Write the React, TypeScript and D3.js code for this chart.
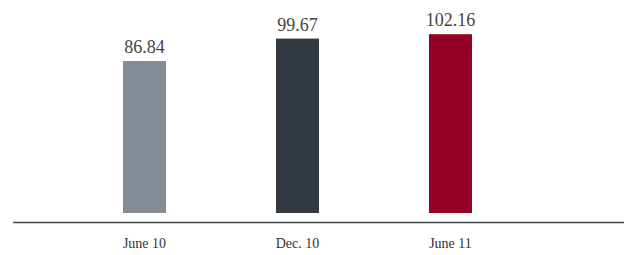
import React from "react";
import * as d3 from "d3";

const categories = ["June 10", "Dec. 10", "June 11"];
const values = [86.84, 99.67, 102.16];
const colors = ["#868c95", "#343a41", "#940026"];

const W = 624;
const H = 255;

export default function App() {
  const x = d3
    .scaleBand<string>()
    .domain(categories)
    .range([68, 527])
    .paddingInner(0.719)
    .paddingOuter(0.3595);
  const y = d3.scaleLinear().domain([0, 120]).range([213, 3]);
  const font = "'Liberation Serif', 'DejaVu Serif', serif";

  return (
    <svg
      width={W}
      height={H}
      style={{ position: "absolute", left: 0, top: 0, background: "#fff" }}
    >
      {categories.map((c, i) => (
        <g key={c}>
          <rect
            x={x(c)!}
            y={y(values[i])}
            width={x.bandwidth()}
            height={y(0) - y(values[i])}
            fill={colors[i]}
          />
          <text
            x={x(c)! + x.bandwidth() / 2}
            y={y(values[i]) - 8}
            textAnchor="middle"
            fontFamily={font}
            fontSize={18}
            fill="#444"
          >
            {values[i].toFixed(2)}
          </text>
          <text
            x={x(c)! + x.bandwidth() / 2}
            y={248}
            textAnchor="middle"
            fontFamily={font}
            fontSize={14}
            fill="#333"
          >
            {c}
          </text>
        </g>
      ))}
      <line x1={13} x2={624} y1={222.5} y2={222.5} stroke="#3f444a" strokeWidth={1.6} />
    </svg>
  );
}
